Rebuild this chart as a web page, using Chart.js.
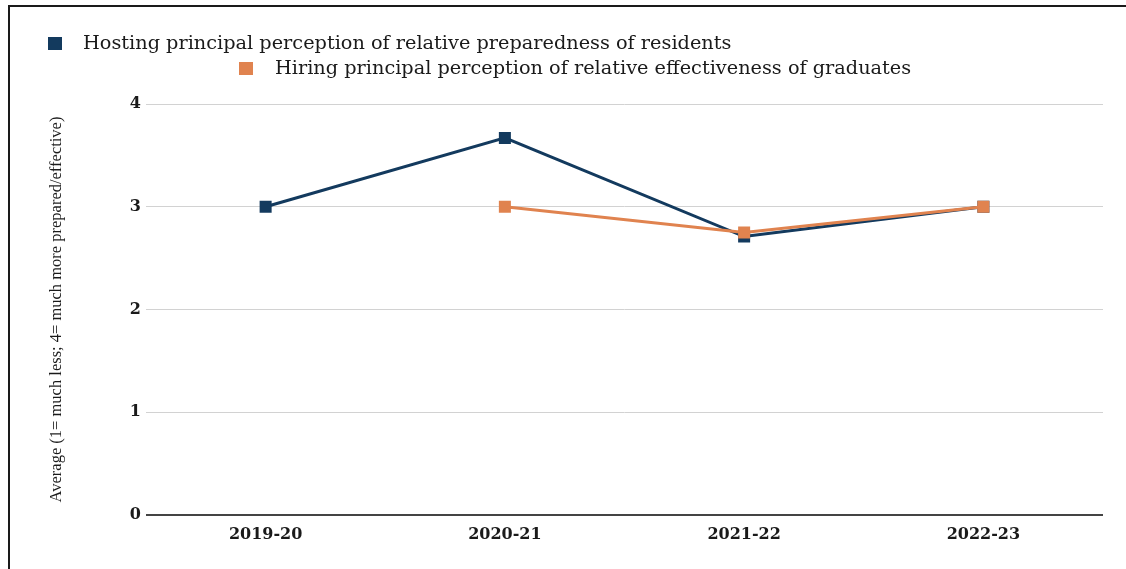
<!DOCTYPE html>
<html>
<head>
<meta charset="utf-8">
<script src="https://cdn.jsdelivr.net/npm/chart.js@4"></script>
<style>
  html, body { margin: 0; padding: 0; background: #fff; overflow: hidden; }
  #wrap { position: relative; width: 1126px; height: 569px; }
  #frame {
    position: absolute; left: 8px; top: 5px; right: 0; bottom: 0;
    border-top: 2px solid #1a1a1a; border-left: 2px solid #1a1a1a;
    pointer-events: none;
  }
  canvas { position: absolute; left: 0; top: 0; }
</style>
</head>
<body>
<div id="wrap">
  <canvas id="perceptionChart" width="1126" height="569"></canvas>
  <div id="frame"></div>
</div>
<script>
const years = ["2019-20", "2020-21", "2021-22", "2022-23"];
const hostingScores = [3.0, 3.67, 2.71, 3.0];
const hiringScores = [null, 3.0, 2.75, 3.0];
const yTicks = [0, 1, 2, 3, 4];

const navy = "#133a5e";
const orange = "#e0834f";

// Two-row legend: first row at the left, second row indented
const splitLegend = {
  id: "splitLegend",
  afterDraw(chart) {
    const ctx = chart.ctx;
    const rows = [
      { box: 48, text: 83, y: 44 },
      { box: 239, text: 275, y: 69 }
    ];
    ctx.save();
    ctx.font = "19.3px 'DejaVu Serif'";
    ctx.textBaseline = "middle";
    chart.data.datasets.forEach((ds, i) => {
      const r = rows[i];
      ctx.fillStyle = ds.borderColor;
      ctx.fillRect(r.box, r.y - 7, 14, 13);
      ctx.fillStyle = "#1a1a1a";
      ctx.fillText(ds.label, r.text, r.y);
    });
    ctx.restore();
  }
};

new Chart(document.getElementById("perceptionChart"), {
  type: "line",
  data: {
    labels: years,
    datasets: [{
      label: "Hosting principal perception of relative preparedness of residents",
      data: hostingScores,
      borderColor: navy,
      backgroundColor: navy,
      borderWidth: 3,
      pointStyle: "rect",
      pointRadius: 8.5,
      pointBorderWidth: 0,
      tension: 0,
      order: 2
    }, {
      label: "Hiring principal perception of relative effectiveness of graduates",
      data: hiringScores,
      borderColor: orange,
      backgroundColor: orange,
      borderWidth: 3,
      pointStyle: "rect",
      pointRadius: 8.5,
      pointBorderWidth: 0,
      tension: 0,
      order: 1
    }]
  },
  options: {
    responsive: false,
    animation: false,
    layout: {
      padding: { top: 104, right: 23, bottom: 24, left: 0 }
    },
    plugins: {
      legend: { display: false },
      tooltip: { enabled: false }
    },
    scales: {
      x: {
        offset: true,
        grid: { display: false, drawTicks: false },
        border: { display: false },
        ticks: {
          padding: 10,
          color: "#1a1a1a",
          font: { family: "'DejaVu Serif'", size: 16, weight: "bold" }
        },
        afterFit(scale) { scale.height = 30; }
      },
      y: {
        min: 0,
        max: 4,
        afterBuildTicks(scale) {
          scale.ticks = yTicks.map(v => ({ value: v }));
        },
        grid: {
          drawTicks: false,
          color: c => c.tick.value === 0 ? "#444" : "#d2d2d2",
          lineWidth: c => c.tick.value === 0 ? 2 : 1
        },
        border: { display: false },
        ticks: {
          padding: 5,
          color: "#1a1a1a",
          font: { family: "'DejaVu Serif'", size: 16, weight: "bold" }
        },
        title: {
          display: true,
          text: "Average (1= much less; 4= much more prepared/effective)",
          color: "#1a1a1a",
          padding: { top: 47, bottom: 4 },
          font: { family: "'Liberation Serif'", size: 16.5 }
        },
        afterFit(scale) { scale.width = 146; }
      }
    }
  },
  plugins: [splitLegend]
});
</script>
</body>
</html>
